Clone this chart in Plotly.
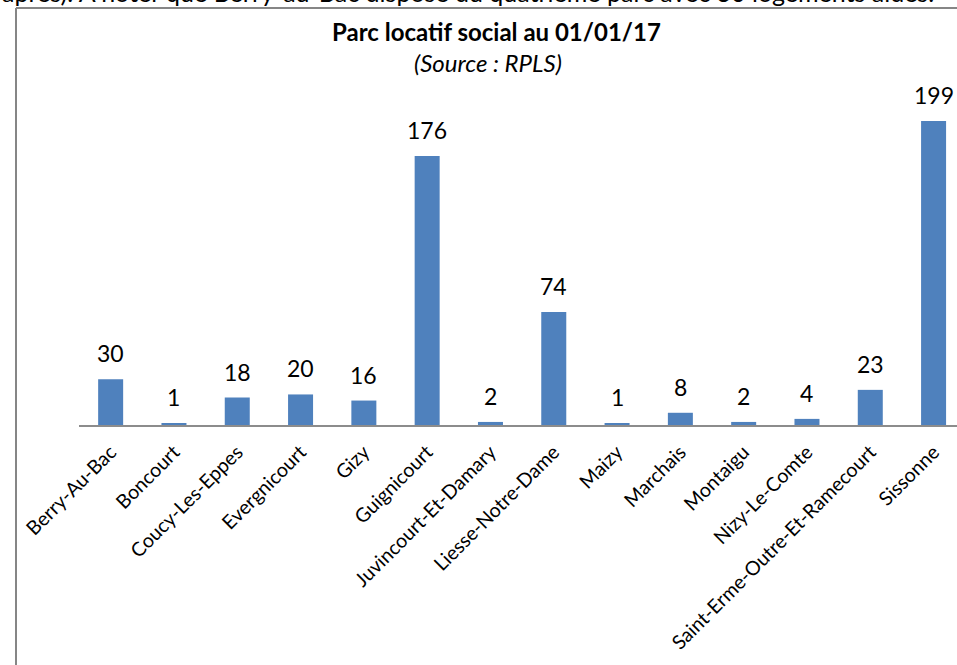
import plotly.graph_objects as go

communes = ["Berry-Au-Bac", "Boncourt", "Coucy-Les-Eppes", "Evergnicourt", "Gizy",
            "Guignicourt", "Juvincourt-Et-Damary", "Liesse-Notre-Dame", "Maizy",
            "Marchais", "Montaigu", "Nizy-Le-Comte", "Saint-Erme-Outre-Et-Ramecourt",
            "Sissonne"]
logements = [30, 1, 18, 20, 16, 176, 2, 74, 1, 8, 2, 4, 23, 199]

title_text = "Parc locatif social au 01/01/17"
subtitle_text = "(Source : RPLS)"
context_text = "après). A noter que Berry-au-Bac dispose du quatrième parc avec 30 logements aidés."

FONT = "Lato"
BAR_COLOR = "#4F81BD"
W, H = 957, 665
ML, MT, MB = 79, 100, 240
plot_h = H - MT - MB
plot_w = W - ML

def px_to_paper_x(px):
    return (px - ML) / plot_w

def px_to_paper_y(py):
    return (H - MB - py) / plot_h

xs = list(range(len(communes)))

fig = go.Figure()
fig.add_trace(go.Bar(
    x=xs, y=logements,
    marker=dict(color=BAR_COLOR, line=dict(width=0)),
    hoverinfo="skip",
))

annotations = []
for i, v in zip(xs, logements):
    annotations.append(dict(
        x=i, y=v, xref="x", yref="y", text=str(v), showarrow=False,
        yanchor="bottom", xanchor="center", yshift=10,
        font=dict(family=FONT, size=23, color="#000000"),
    ))

annotations.append(dict(
    x=px_to_paper_x(496), y=px_to_paper_y(31), xref="paper", yref="paper",
    text="<b>" + title_text + "</b>", showarrow=False,
    xanchor="center", yanchor="middle",
    font=dict(family=FONT, size=24, color="#000000"),
))
annotations.append(dict(
    x=px_to_paper_x(488), y=px_to_paper_y(62), xref="paper", yref="paper",
    text="<i>" + subtitle_text + "</i>", showarrow=False,
    xanchor="center", yanchor="middle",
    font=dict(family=FONT, size=24, color="#000000"),
))
annotations.append(dict(
    x=px_to_paper_x(0), y=px_to_paper_y(-8), xref="paper", yref="paper",
    text=context_text, showarrow=False,
    xanchor="left", yanchor="middle",
    font=dict(family=FONT, size=25, color="#000000"),
))

shapes = [
    dict(type="line", xref="paper", yref="paper",
         x0=px_to_paper_x(16), x1=px_to_paper_x(16),
         y0=px_to_paper_y(8), y1=px_to_paper_y(670),
         line=dict(color="#868686", width=2)),
    dict(type="line", xref="paper", yref="paper",
         x0=px_to_paper_x(16), x1=px_to_paper_x(970),
         y0=px_to_paper_y(8), y1=px_to_paper_y(8),
         line=dict(color="#868686", width=2)),
]

fig.update_layout(
    width=W, height=H,
    margin=dict(l=ML, r=0, t=MT, b=MB, pad=0, autoexpand=False),
    paper_bgcolor="white", plot_bgcolor="white",
    showlegend=False,
    bargap=0.605,
    annotations=annotations,
    shapes=shapes,
    xaxis=dict(
        range=[-0.5, 13.37],
        tickmode="array", tickvals=xs, ticktext=communes,
        tickangle=-45,
        tickfont=dict(family=FONT, size=19.6, color="#000000"),
        ticklabelstandoff=6,
        automargin=False,
        showline=True, linecolor="#8C8C8C", linewidth=2,
        showgrid=False, zeroline=False, ticks="",
        fixedrange=True,
    ),
    yaxis=dict(
        range=[0, 212.7],
        visible=False, showgrid=False, zeroline=False,
        automargin=False,
        fixedrange=True,
    ),
)

fig.write_html("out.html")
